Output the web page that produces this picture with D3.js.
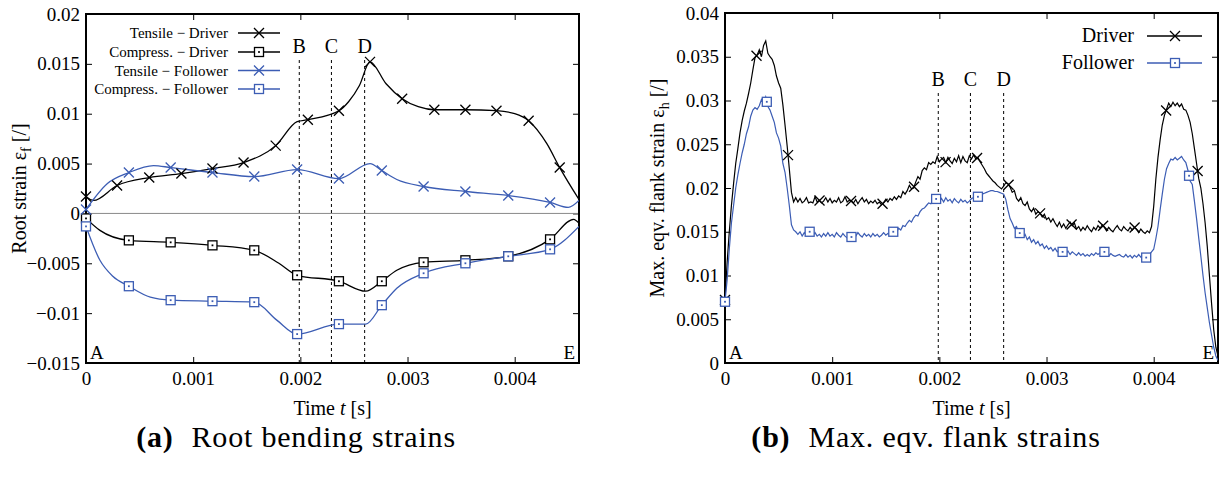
<!DOCTYPE html>
<html><head><meta charset="utf-8">
<script src="https://cdn.jsdelivr.net/npm/d3@7"></script>
<style>body{margin:0;background:#fff}svg{display:block}text{font-family:"Liberation Serif","DejaVu Serif",serif;fill:#000}</style>
</head><body><svg id="c" width="1224" height="478" font-family="Liberation Serif, serif"></svg>
<script>
// ---------- DATA ----------
// (a) Root bending strains : knots [time s, strain]
const tensileDriver = [[0,0.0017],[0.00007,0.0013],[0.00029,0.0028],[0.00059,0.0036],[0.00089,0.0040],[0.00118,0.0045],[0.00147,0.0051],[0.00177,0.0068],[0.00197,0.0092],[0.00207,0.0094],[0.00236,0.0103],[0.00245,0.0112],[0.00255,0.0128],[0.00265,0.0152],[0.00280,0.0130],[0.00295,0.0115],[0.00310,0.0107],[0.00325,0.0104],[0.00354,0.0104],[0.00383,0.0103],[0.00400,0.0100],[0.00413,0.0093],[0.00430,0.0070],[0.00442,0.0046],[0.0046,0.0014]];
const tensileDriverMarks = [[0,0.0017],[0.00029,0.0028],[0.00059,0.0036],[0.00089,0.0040],[0.00118,0.0045],[0.00147,0.0051],[0.00177,0.0068],[0.00207,0.0094],[0.00236,0.0103],[0.00265,0.0152],[0.00295,0.0115],[0.00325,0.0104],[0.00354,0.0104],[0.00383,0.0103],[0.00413,0.0093],[0.00442,0.0046]];
const compressDriver = [[0,-0.0005],[0.00013,-0.0017],[0.0004,-0.0027],[0.00079,-0.0029],[0.00118,-0.0032],[0.00157,-0.0037],[0.0018,-0.0050],[0.00197,-0.0062],[0.00236,-0.0068],[0.00261,-0.0078],[0.00276,-0.0068],[0.0029,-0.0057],[0.00315,-0.0049],[0.00354,-0.0047],[0.00394,-0.0043],[0.00433,-0.0026],[0.00455,-0.0006],[0.0046,-0.0010]];
const compressDriverMarks = [[0,-0.0005],[0.0004,-0.0027],[0.00079,-0.0029],[0.00118,-0.0032],[0.00157,-0.0037],[0.00197,-0.0062],[0.00236,-0.0068],[0.00276,-0.0068],[0.00315,-0.0049],[0.00354,-0.0047],[0.00394,-0.0043],[0.00433,-0.0026]];
const tensileFollower = [[0,0.0004],[0.0002,0.0030],[0.0004,0.0041],[0.00063,0.0048],[0.00079,0.0046],[0.00118,0.0041],[0.00157,0.0037],[0.00197,0.0044],[0.00236,0.0035],[0.00265,0.0050],[0.00276,0.0043],[0.0029,0.0034],[0.00315,0.0027],[0.00354,0.0022],[0.00394,0.0018],[0.00433,0.0011],[0.00450,0.0006],[0.0046,0.0013]];
const tensileFollowerMarks = [[0,0.0004],[0.0004,0.0041],[0.00079,0.0046],[0.00118,0.0041],[0.00157,0.0037],[0.00197,0.0044],[0.00236,0.0035],[0.00276,0.0043],[0.00315,0.0027],[0.00354,0.0022],[0.00394,0.0018],[0.00433,0.0011]];
const compressFollower = [[0,-0.0013],[0.00013,-0.0047],[0.00025,-0.0063],[0.0004,-0.0073],[0.0006,-0.0084],[0.00079,-0.0087],[0.00118,-0.0088],[0.00157,-0.0089],[0.00178,-0.0107],[0.00197,-0.0121],[0.00236,-0.0111],[0.00261,-0.0111],[0.00276,-0.0092],[0.0029,-0.0075],[0.00315,-0.0060],[0.00354,-0.0050],[0.00394,-0.0043],[0.00433,-0.0036],[0.0046,-0.0013]];
const compressFollowerMarks = [[0,-0.0013],[0.0004,-0.0073],[0.00079,-0.0087],[0.00118,-0.0088],[0.00157,-0.0089],[0.00197,-0.0121],[0.00236,-0.0111],[0.00276,-0.0092],[0.00315,-0.0060],[0.00354,-0.0050],[0.00394,-0.0043],[0.00433,-0.0036]];

// (b) Max. eqv. flank strains : sampled every 0.00002 s
const flankStep = 0.00002;
const flankDriver = [0.0072,0.0115,0.0150,0.0180,0.0205,0.0228,0.0245,0.0263,0.0277,0.0288,0.0297,0.0308,0.0320,0.0335,0.0349,0.0352,0.0358,0.0350,0.0363,0.0368,
0.0354,0.0350,0.0347,0.0340,0.0328,0.0320,0.0314,0.0295,0.0272,0.0248,0.0222,0.0195,0.0184,0.0189,0.0184,0.0188,0.0183,0.0185,0.0189,0.0183,
0.0184,0.0183,0.0190,0.0184,0.0186,0.0183,0.0185,0.0189,0.0184,0.0188,0.0183,0.0186,0.0184,0.0189,0.0183,0.0185,0.0190,0.0184,0.0186,0.0185,
0.0183,0.0187,0.0182,0.0186,0.0189,0.0184,0.0187,0.0182,0.0185,0.0183,0.0186,0.0182,0.0184,0.0181,0.0183,0.0187,0.0184,0.0188,0.0186,0.0190,
0.0187,0.0191,0.0189,0.0196,0.0193,0.0197,0.0203,0.0199,0.0200,0.0207,0.0213,0.0210,0.0220,0.0223,0.0221,0.0229,0.0227,0.0230,0.0228,0.0236,
0.0230,0.0233,0.0235,0.0229,0.0235,0.0231,0.0228,0.0234,0.0230,0.0237,0.0229,0.0236,0.0231,0.0229,0.0237,0.0233,0.0238,0.0233,0.0235,0.0230,
0.0226,0.0222,0.0217,0.0214,0.0211,0.0208,0.0206,0.0203,0.0201,0.0199,0.0202,0.0206,0.0205,0.0201,0.0195,0.0197,0.0188,0.0185,0.0189,0.0182,
0.0180,0.0184,0.0176,0.0173,0.0177,0.0170,0.0173,0.0171,0.0167,0.0170,0.0164,0.0166,0.0161,0.0165,0.0160,0.0156,0.0161,0.0155,0.0159,0.0154,
0.0158,0.0161,0.0157,0.0160,0.0153,0.0156,0.0151,0.0155,0.0152,0.0157,0.0153,0.0150,0.0155,0.0152,0.0157,0.0154,0.0158,0.0155,0.0151,0.0155,
0.0152,0.0150,0.0154,0.0157,0.0153,0.0151,0.0156,0.0153,0.0151,0.0155,0.0152,0.0155,0.0153,0.0149,0.0153,0.0150,0.0148,0.0151,0.0149,0.0156,
0.0179,0.0210,0.0235,0.0255,0.0272,0.0283,0.0290,0.0297,0.0293,0.0298,0.0294,0.0297,0.0293,0.0296,0.0290,0.0289,0.0283,0.0275,0.0262,0.0245,
0.0228,0.0211,0.0200,0.0182,0.0160,0.0133,0.0100,0.0068,0.0038,0.0018,0.0008];
const flankFollower = [0.0070,0.0095,0.0130,0.0160,0.0180,0.0200,0.0215,0.0228,0.0240,0.0250,0.0262,0.0270,0.0282,0.0289,0.0292,0.0290,0.0294,0.0301,0.0296,0.0304,
0.0293,0.0289,0.0282,0.0275,0.0263,0.0257,0.0248,0.0228,0.0218,0.0200,0.0180,0.0158,0.0152,0.0150,0.0147,0.0150,0.0145,0.0149,0.0146,0.0152,
0.0148,0.0146,0.0149,0.0145,0.0147,0.0144,0.0148,0.0145,0.0149,0.0145,0.0147,0.0144,0.0149,0.0146,0.0144,0.0148,0.0145,0.0143,0.0146,0.0144,
0.0148,0.0145,0.0149,0.0146,0.0144,0.0148,0.0145,0.0147,0.0144,0.0148,0.0145,0.0147,0.0144,0.0146,0.0149,0.0146,0.0148,0.0147,0.0149,0.0151,
0.0149,0.0154,0.0152,0.0157,0.0156,0.0160,0.0163,0.0161,0.0166,0.0169,0.0168,0.0173,0.0176,0.0177,0.0180,0.0183,0.0182,0.0186,0.0186,0.0189,
0.0184,0.0188,0.0184,0.0189,0.0185,0.0187,0.0183,0.0188,0.0185,0.0183,0.0187,0.0184,0.0186,0.0183,0.0185,0.0188,0.0189,0.0189,0.0190,0.0191,
0.0193,0.0194,0.0195,0.0196,0.0197,0.0197,0.0196,0.0196,0.0195,0.0194,0.0193,0.0187,0.0175,0.0165,0.0160,0.0154,0.0156,0.0149,0.0148,0.0144,
0.0147,0.0141,0.0144,0.0138,0.0141,0.0136,0.0139,0.0134,0.0136,0.0131,0.0134,0.0130,0.0132,0.0128,0.0131,0.0127,0.0129,0.0126,0.0128,0.0125,
0.0128,0.0124,0.0127,0.0125,0.0123,0.0126,0.0123,0.0125,0.0122,0.0124,0.0122,0.0125,0.0123,0.0126,0.0124,0.0126,0.0123,0.0127,0.0124,0.0122,
0.0125,0.0123,0.0122,0.0123,0.0124,0.0122,0.0121,0.0124,0.0121,0.0123,0.0120,0.0123,0.0121,0.0124,0.0121,0.0123,0.0120,0.0121,0.0124,0.0127,
0.0130,0.0142,0.0156,0.0175,0.0193,0.0210,0.0222,0.0228,0.0233,0.0232,0.0235,0.0232,0.0234,0.0236,0.0232,0.0229,0.0220,0.0208,0.0204,0.0185,
0.0165,0.0143,0.0122,0.0100,0.0080,0.0063,0.0046,0.0032,0.0018,0.0008,0.0003];
const flankDriverMarkTimes = [0,0.000294,0.000588,0.000882,0.001176,0.00147,0.001764,0.002058,0.002352,0.002646,0.00294,0.003234,0.003528,0.003822,0.004116,0.00441];
const flankFollowerMarkTimes = [0,0.00039,0.00079,0.00118,0.00157,0.00197,0.00236,0.00275,0.00315,0.00354,0.00393,0.00433];

const eventTimes = [0.00199,0.00229,0.0026];
const eventLabels = ["B","C","D"];
const xTicks = [0,0.001,0.002,0.003,0.004];
const xTickLabels = ["0","0.001","0.002","0.003","0.004"];
const yTicksA = [0.02,0.015,0.01,0.005,0,-0.005,-0.01,-0.015];
const yTickLabelsA = ["0.02","0.015","0.01","0.005","0","\u22120.005","\u22120.01","\u22120.015"];
const yTicksB = [0.04,0.035,0.03,0.025,0.02,0.015,0.01,0.005,0];
const yTickLabelsB = ["0.04","0.035","0.03","0.025","0.02","0.015","0.01","0.005","0"];
const legendA = ["Tensile \u2212 Driver","Compress. \u2212 Driver","Tensile \u2212 Follower","Compress. \u2212 Follower"];
const legendB = ["Driver","Follower"];

// ---------- DRAW ----------
const BLACK = "#000", BLUE = "#3c5db4";
const FONT = "Liberation Serif, serif";
const svg = d3.select("#c");

function cross(g, px, py, col){
  g.append("path").attr("d",`M${px-5},${py-5}L${px+5},${py+5}M${px-5},${py+5}L${px+5},${py-5}`)
   .attr("stroke",col).attr("stroke-width",1.3).attr("fill","none");
}
function square(g, px, py, col){
  g.append("rect").attr("x",px-4.5).attr("y",py-4.5).attr("width",9).attr("height",9)
   .attr("fill","#fff").attr("stroke",col).attr("stroke-width",1.3);
  g.append("rect").attr("x",px-0.9).attr("y",py-0.9).attr("width",1.8).attr("height",1.8).attr("fill",col);
}

function panel(opt){
  const g = svg.append("g");
  const x = d3.scaleLinear().domain([0,0.0046]).range(opt.xr);
  const y = d3.scaleLinear().domain(opt.yd).range(opt.yr);
  const [x0,x1] = opt.xr, [y1,y0] = opt.yr;
  const clipId = "clip"+opt.id;
  svg.append("clipPath").attr("id",clipId).append("rect").attr("x",x0).attr("y",y0).attr("width",x1-x0).attr("height",y1-y0);
  const axB = d3.axisBottom(x).tickValues(xTicks).tickFormat((d,i)=>xTickLabels[i]).tickSizeInner(-6).tickSizeOuter(0).tickPadding(9);
  const axT = d3.axisTop(x).tickValues(xTicks).tickFormat("").tickSizeInner(-6).tickSizeOuter(0);
  const axL = d3.axisLeft(y).tickValues(opt.yt).tickFormat((d,i)=>opt.ytl[i]).tickSizeInner(-6).tickSizeOuter(0).tickPadding(6);
  const axR = d3.axisRight(y).tickValues(opt.yt).tickFormat("").tickSizeInner(-6).tickSizeOuter(0);
  const sty = s => { s.attr("font-family",FONT).attr("font-size",19); s.select(".domain").remove();
    s.selectAll("line").attr("stroke","#000").attr("stroke-width",1);
    s.selectAll("text").attr("fill","#000"); };
  g.append("g").attr("transform",`translate(0,${y1})`).call(axB).call(sty);
  g.append("g").attr("transform",`translate(0,${y0})`).call(axT).call(sty);
  g.append("g").attr("transform",`translate(${x0},0)`).call(axL).call(sty);
  g.append("g").attr("transform",`translate(${x1},0)`).call(axR).call(sty);
  if(opt.zero){
    g.append("line").attr("x1",x0).attr("x2",x1).attr("y1",y(0)).attr("y2",y(0)).attr("stroke","#8a8a8a").attr("stroke-width",1);
  }
  eventTimes.forEach((t,i)=>{
    g.append("line").attr("x1",x(t)).attr("x2",x(t)).attr("y1",opt.dashTop).attr("y2",y1)
      .attr("stroke","#000").attr("stroke-width",1).attr("stroke-dasharray","3,3");
    g.append("text").attr("x",x(t)).attr("y",opt.dashTop-7).attr("text-anchor","middle").style("font-size","20px").text(eventLabels[i]);
  });
  g.append("text").attr("x",x0+4).attr("y",y1-4).style("font-size","19px").text("A");
  g.append("text").attr("x",x1-4).attr("y",y1-4).attr("text-anchor","end").style("font-size","19px").text("E");
  g.append("rect").attr("x",x0).attr("y",y0).attr("width",x1-x0).attr("height",y1-y0).attr("fill","none").attr("stroke","#000").attr("stroke-width",2);
  const xl = g.append("text").attr("x",(x0+x1)/2).attr("y",y1+52).attr("text-anchor","middle").style("font-size","20px");
  xl.append("tspan").text("Time ");
  xl.append("tspan").style("font-style","italic").text("t");
  xl.append("tspan").text(" [s]");
  const yl = g.append("text").attr("transform",`translate(${opt.ylx},${(y0+y1)/2}) rotate(-90)`).attr("text-anchor","middle").style("font-size","20px");
  yl.append("tspan").text(opt.ylab);
  yl.append("tspan").attr("dy",5).style("font-size","14px").text(opt.ysub);
  yl.append("tspan").attr("dy",-5).text(" [/]");
  const cap = svg.append("text").attr("x",opt.capx).attr("y",447).attr("text-anchor","middle").style("font-size","30px").style("letter-spacing","0.8px");
  cap.append("tspan").style("font-weight","bold").text(opt.capA);
  cap.append("tspan").attr("dx",18).text(opt.capB);
  return {g,x,y,clipId};
}

// ---- Panel (a)
const A = panel({id:"a", xr:[86,579], yd:[-0.015,0.02], yr:[363,14], yt:yTicksA, ytl:yTickLabelsA, zero:true,
  dashTop:60, ylx:26, ylab:"Root strain \u03b5", ysub:"f", capx:296, capA:"(a)", capB:"Root bending strains"});
const lineA = d3.line().x(d=>A.x(d[0])).y(d=>A.y(d[1])).curve(d3.curveMonotoneX);
const seriesA = [
  {d:tensileDriver, m:tensileDriverMarks, c:BLACK, mk:cross},
  {d:compressDriver, m:compressDriverMarks, c:BLACK, mk:square},
  {d:tensileFollower, m:tensileFollowerMarks, c:BLUE, mk:cross},
  {d:compressFollower, m:compressFollowerMarks, c:BLUE, mk:square}];
const la = A.g.append("g").attr("clip-path",`url(#${A.clipId})`);
seriesA.forEach(s=>{
  la.append("path").attr("d",lineA(s.d)).attr("fill","none").attr("stroke",s.c).attr("stroke-width",1.3);
});
seriesA.forEach(s=>{ s.m.forEach(p=>s.mk(A.g, A.x(p[0]), A.y(p[1]), s.c)); });
seriesA.forEach((s,i)=>{
  const yy = [33,52,70.5,89][i];
  A.g.append("text").attr("x",228).attr("y",yy+5).attr("text-anchor","end").style("font-size","15px").text(legendA[i]);
  A.g.append("line").attr("x1",238).attr("x2",280).attr("y1",yy).attr("y2",yy).attr("stroke",s.c).attr("stroke-width",1.3);
  s.mk(A.g,259,yy,s.c);
});

// ---- Panel (b)
const B = panel({id:"b", xr:[725,1218], yd:[0,0.04], yr:[363,13], yt:yTicksB, ytl:yTickLabelsB, zero:false,
  dashTop:93, ylx:664, ylab:"Max. eqv. flank strain \u03b5", ysub:"h", capx:926, capA:"(b)", capB:"Max. eqv. flank strains"});
const times = flankDriver.map((v,i)=>i*flankStep);
const lineB = d3.line().x(d=>B.x(d[0])).y(d=>B.y(d[1]));
const ptsD = flankDriver.map((v,i)=>[times[i],v]);
const ptsF = flankFollower.map((v,i)=>[times[i],v]);
const interp = (pts,t)=>{ const j = Math.min(pts.length-2, Math.floor(t/flankStep+1e-9)); const a=pts[j], b=pts[j+1]; const f=(t-a[0])/(b[0]-a[0]); return a[1]+(b[1]-a[1])*f; };
const lb = B.g.append("g").attr("clip-path",`url(#${B.clipId})`);
lb.append("path").attr("d",lineB(ptsD)).attr("fill","none").attr("stroke",BLACK).attr("stroke-width",1.2);
lb.append("path").attr("d",lineB(ptsF)).attr("fill","none").attr("stroke",BLUE).attr("stroke-width",1.2);
flankDriverMarkTimes.forEach(t=>cross(B.g,B.x(t),B.y(interp(ptsD,t)),BLACK));
flankFollowerMarkTimes.forEach(t=>square(B.g,B.x(t),B.y(interp(ptsF,t)),BLUE));
[[BLACK,cross],[BLUE,square]].forEach((s,i)=>{
  const yy=[36,63][i];
  B.g.append("text").attr("x",1134).attr("y",yy+6).attr("text-anchor","end").style("font-size","20px").text(legendB[i]);
  B.g.append("line").attr("x1",1147).attr("x2",1202).attr("y1",yy).attr("y2",yy).attr("stroke",s[0]).attr("stroke-width",1.3);
  s[1](B.g,1175,yy,s[0]);
});
</script></body></html>
